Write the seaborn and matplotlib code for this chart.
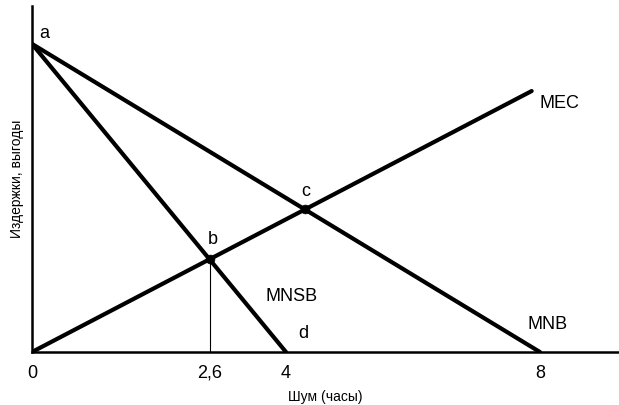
import numpy as np
import pandas as pd
import matplotlib
matplotlib.use("Agg")
import matplotlib.pyplot as plt
import seaborn as sns

# Data (schematic units)
mnb_x = [0, 8]
mnb_y = [10, 0]
mnsb_x = [0, 4]
mnsb_y = [10, 0]
mec_x = [0, 7.87]
mec_y = [0, 8.47]
point_labels = ["b", "c"]
tick_labels = ["0", "2,6", "4", "8"]

sns.set_theme(style="white")
plt.rcParams['font.family'] = ['Liberation Sans', 'DejaVu Sans']
plt.rcParams['text.color'] = 'black'
plt.rcParams['axes.labelcolor'] = 'black'
plt.rcParams['xtick.color'] = 'black'

def intersect(x1, y1, x2, y2):
    m1 = (y1[1] - y1[0]) / (x1[1] - x1[0]); c1 = y1[0] - m1 * x1[0]
    m2 = (y2[1] - y2[0]) / (x2[1] - x2[0]); c2 = y2[0] - m2 * x2[0]
    x = (c2 - c1) / (m1 - m2)
    return x, m1 * x + c1

bx, by = intersect(mnsb_x, mnsb_y, mec_x, mec_y)
cx, cy = intersect(mnb_x, mnb_y, mec_x, mec_y)

df = pd.concat([
    pd.DataFrame({"x": mnb_x, "y": mnb_y, "curve": "MNB"}),
    pd.DataFrame({"x": mnsb_x, "y": mnsb_y, "curve": "MNSB"}),
    pd.DataFrame({"x": mec_x, "y": mec_y, "curve": "MEC"}),
])
pts = pd.DataFrame({"x": [bx, cx], "y": [by, cy], "name": point_labels})

fig = plt.figure(figsize=(6.19, 4.05), dpi=100)
ax = fig.add_axes([32/619, (405-352)/405, (618-32)/619, (352-6)/405])

sns.lineplot(data=df, x="x", y="y", units="curve", estimator=None,
             color="black", lw=3.0, ax=ax, legend=False, sort=False)
sns.scatterplot(data=pts, x="x", y="y", color="black", s=40, ax=ax,
                zorder=5, edgecolor="black", legend=False)
ax.plot([bx, bx], [0, by], color="black", lw=0.8)

ax.set_xlim(0, 9.23)
ax.set_ylim(0, 11.23)
for s in ["top", "right"]:
    ax.spines[s].set_visible(False)
for s in ["left", "bottom"]:
    ax.spines[s].set_color("black")
    ax.spines[s].set_linewidth(1.8)

ax.set_xticks([0, bx, 4, 8])
ax.set_xticklabels(tick_labels, fontsize=13)
ax.set_yticks([])
ax.tick_params(axis="x", length=0, pad=9)
ax.set_xlabel("Шум (часы)", fontsize=10, labelpad=6)
ax.set_ylabel("Издержки, выгоды", fontsize=10, labelpad=6)

fs = 13
ax.text(0.12, 10.35, "a", fontsize=fs, ha="left", va="center")
ax.text(bx - 0.03, by + 0.35, "b", fontsize=fs, ha="left", va="bottom")
ax.text(cx - 0.05, cy + 0.3, "c", fontsize=fs, ha="left", va="bottom")
ax.text(8.0, 8.05, "MEC", fontsize=fs, ha="left", va="center")
ax.text(3.67, 1.8, "MNSB", fontsize=fs, ha="left", va="center")
ax.text(4.2, 0.6, "d", fontsize=fs, ha="left", va="center")
ax.text(7.8, 0.9, "MNB", fontsize=fs, ha="left", va="center")

fig.savefig("out.png", dpi=100)
